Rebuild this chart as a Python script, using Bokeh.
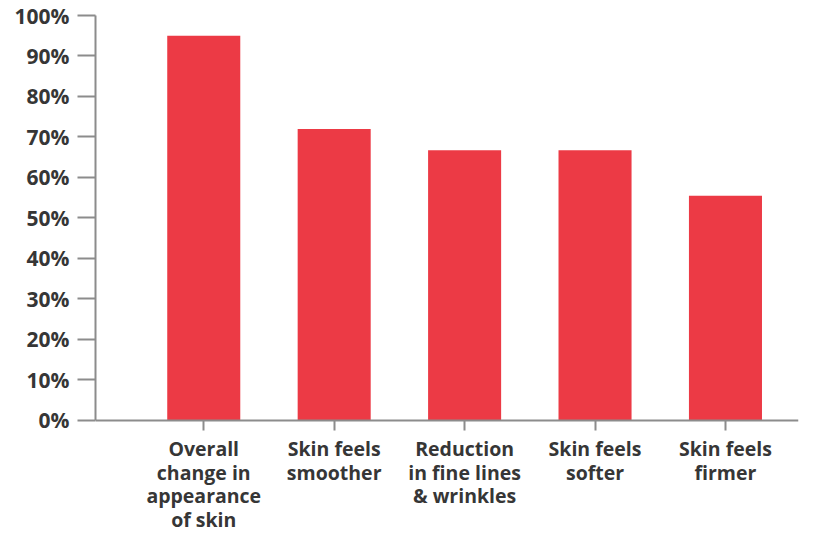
from bokeh.plotting import figure
from bokeh.models import Range1d, FixedTicker, ColumnDataSource
from bokeh.embed import file_html
from bokeh.resources import INLINE

categories = ["Overall\nchange in\nappearance\nof skin", "Skin feels\nsmoother",
              "Reduction\nin fine lines\n& wrinkles", "Skin feels\nsofter", "Skin feels\nfirmer"]
values = [95, 72, 66.7, 66.7, 55.5]
y_ticks = [0, 10, 20, 30, 40, 50, 60, 70, 80, 90, 100]
y_labels = [f"{t}%" for t in y_ticks]

xs = list(range(len(categories)))
src = ColumnDataSource(dict(x=xs, top=values))

p = figure(width=815, height=535, output_backend="svg", toolbar_location=None,
           x_range=Range1d(-0.83, 4.56), y_range=Range1d(-28.4, 100),
           min_border_left=95, min_border_right=17, min_border_top=15, min_border_bottom=0)
p.vbar(x="x", top="top", width=0.56, source=src, color="#EC3A45", line_color=None)

p.grid.visible = False
p.outline_line_color = None
p.background_fill_color = "white"

ya = p.yaxis[0]
ya.ticker = FixedTicker(ticks=y_ticks)
ya.bounds = (0, 100)
ya.major_label_overrides = {t: l for t, l in zip(y_ticks, y_labels)}
ya.minor_tick_line_color = None
ya.major_tick_in = 0
ya.major_tick_out = 18
ya.major_label_standoff = 8
ya.axis_line_color = "#8c8c8c"
ya.axis_line_width = 2
ya.major_tick_line_color = "#8c8c8c"
ya.major_tick_line_width = 2
ya.major_label_text_font = "Open Sans"
ya.major_label_text_font_style = "bold"
ya.major_label_text_font_size = "21px"
ya.major_label_text_color = "#363636"

xa = p.xaxis[0]
xa.fixed_location = 0
xa.ticker = FixedTicker(ticks=xs)
xa.major_label_overrides = {i: c for i, c in zip(xs, categories)}
xa.minor_tick_line_color = None
xa.major_tick_in = 0
xa.major_tick_out = 10
xa.major_label_standoff = 5
xa.axis_line_color = "#8c8c8c"
xa.axis_line_width = 2
xa.major_tick_line_color = "#8c8c8c"
xa.major_tick_line_width = 2
xa.major_label_text_font = "Open Sans"
xa.major_label_text_font_style = "bold"
xa.major_label_text_font_size = "19.5px"
xa.major_label_text_color = "#363636"
xa.major_label_text_line_height = 0.87

open("out.html", "w").write(file_html(p, INLINE))
